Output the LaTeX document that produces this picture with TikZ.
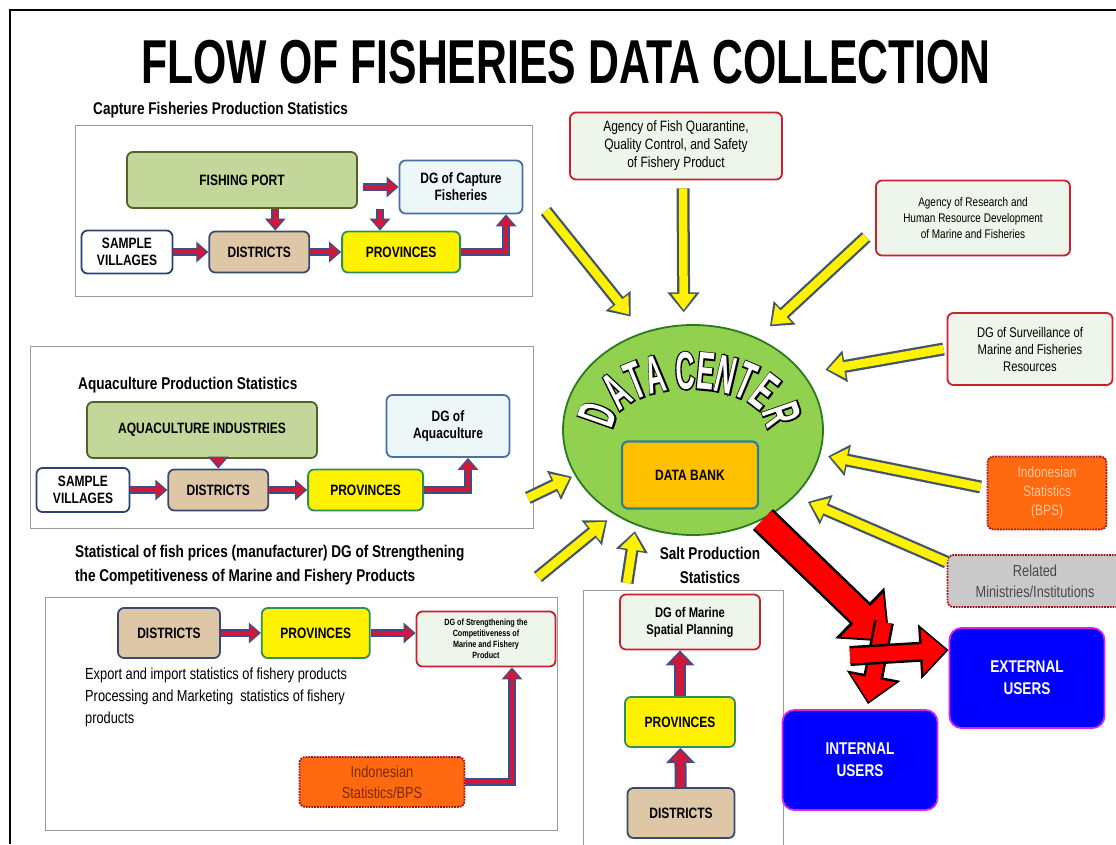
\documentclass[tikz,border=0pt]{standalone}
\usepackage{fontspec}
\setmainfont{Liberation Sans}
\newfontfamily\narrowfont[FakeStretch=0.8]{Liberation Sans}
\newfontfamily\titlefont[FakeStretch=0.69]{Liberation Sans}
\newfontfamily\arcfont[FakeStretch=0.5]{Liberation Sans}
\newfontfamily\arcedgefont[FakeStretch=0.5, FakeBold=5]{Liberation Sans}
\usetikzlibrary{shapes.geometric, arrows.meta, positioning, decorations.text, calc}

\definecolor{portfill}{HTML}{C4D79B}
\definecolor{portedge}{HTML}{4F6228}
\definecolor{dgfill}{HTML}{EEF7F7}
\definecolor{dgedge}{HTML}{4A6FA0}
\definecolor{villedge}{HTML}{2C4270}
\definecolor{distfill}{HTML}{DDC7A6}
\definecolor{distedge}{HTML}{3A4A6E}
\definecolor{provedge}{HTML}{2F8F5A}
\definecolor{agencyfill}{HTML}{EEF5EA}
\definecolor{agencyedge}{HTML}{C8202F}
\definecolor{bpsfill}{HTML}{FF6A10}
\definecolor{bpsedge}{HTML}{A0141C}
\definecolor{bpstext}{HTML}{FFC39A}
\definecolor{bpsdark}{HTML}{7A2A00}
\definecolor{relfill}{HTML}{C9C9C9}
\definecolor{reltext}{HTML}{4A4A4A}
\definecolor{userfill}{HTML}{0000FF}
\definecolor{useredge}{HTML}{E020E0}
\definecolor{dcfill}{HTML}{92D050}
\definecolor{dcedge}{HTML}{2A7A1E}
\definecolor{bankfill}{HTML}{FFC000}
\definecolor{bankedge}{HTML}{2F7F8F}
\definecolor{flowred}{HTML}{D0183A}
\definecolor{flowedge}{HTML}{3A4E8C}
\definecolor{bigred}{HTML}{FF0000}
\definecolor{yellowedge}{HTML}{44546A}
\definecolor{panelgrey}{HTML}{9A9A9A}

\begin{document}
\begin{tikzpicture}[
    x=1pt, y=-1pt,
    panel/.style={rectangle, draw=panelgrey, line width=0.9pt, fill=white, anchor=north west, inner sep=0pt},
    heading/.style={inner sep=0pt, align=left, font=\narrowfont\bfseries\fontsize{17}{24}\selectfont},
    box/.style={rectangle, rounded corners=6pt, line width=1.8pt, align=center, inner sep=1pt, font=\narrowfont\bfseries\fontsize{15}{17}\selectfont},
    portbox/.style={box, draw=portedge, fill=portfill, minimum width=230pt, minimum height=56pt},
    dgbox/.style={box, draw=dgedge, fill=dgfill, minimum width=123pt, minimum height=55pt},
    villbox/.style={box, draw=villedge, fill=white, minimum width=91pt, minimum height=43pt},
    distbox/.style={box, draw=distedge, fill=distfill, minimum width=100pt, minimum height=41pt},
    provbox/.style={box, draw=provedge, fill=yellow, minimum width=118pt, minimum height=41pt},
    agencybox/.style={box, draw=agencyedge, fill=agencyfill, font=\narrowfont\fontsize{15}{18}\selectfont},
    bpsbox/.style={box, draw=bpsedge, fill=bpsfill, densely dotted, font=\narrowfont\fontsize{16}{21}\selectfont},
    userbox/.style={box, draw=useredge, fill=userfill, text=white, rounded corners=12pt, minimum width=155pt, minimum height=100pt, font=\narrowfont\bfseries\fontsize{17}{22}\selectfont},
    redflow/.style={draw=flowred, line width=4.5pt, -{Triangle[length=9pt, width=15pt]}, shorten >=2pt,
        preaction={draw=flowedge, line width=8pt, -{Triangle[length=12pt, width=20pt]}, shorten >=0pt}},
    wideflow/.style={draw=flowred, line width=8pt, -{Triangle[length=12pt, width=21pt]}, shorten >=2pt,
        preaction={draw=flowedge, line width=12pt, -{Triangle[length=15pt, width=28pt]}, shorten >=0pt}},
    yellowflow/.style={draw=yellow, line width=8.5pt, -{Triangle[length=16pt, width=23pt]}, shorten >=#1+2.5pt,
        preaction={draw=yellowedge, line width=13pt, -{Triangle[length=20pt, width=31pt]}, shorten >=#1}},
    yellowflow/.default=0pt,
    bigflow/.style={draw=bigred, line width=24pt, -{Triangle[length=36pt, width=58pt]}, shorten >=3pt,
        preaction={draw=black, line width=29pt, -{Triangle[length=42pt, width=68pt]}, shorten >=0pt}},
    crossflow/.style={draw=bigred, line width=15pt, -{Triangle[length=24pt, width=44pt]}, shorten >=2.5pt,
        preaction={draw=black, line width=20pt, -{Triangle[length=29pt, width=53pt]}, shorten >=0pt}}
]
\useasboundingbox (0,0) rectangle (1116,844);
\clip (0,0) rectangle (1116,844);
\fill[white] (0,0) rectangle (1116,844);
\draw[line width=1.5pt] (10,844) -- (10,10) -- (1116,10);

% Title
\node[font=\titlefont\bfseries\fontsize{62}{62}\selectfont] (title) at (566,62) {FLOW OF FISHERIES DATA COLLECTION};

% Capture fisheries
\node[heading, anchor=base west] (capturehead) at (93,114) {Capture Fisheries Production Statistics};
\node[panel, minimum width=457pt, minimum height=171pt] (capture) at (75,125) {};
\node[portbox] (port1) at (242,180) {FISHING PORT};
\node[dgbox, minimum height=53pt] (dgcapture) at (461,187) {DG of Capture\\Fisheries};
\node[villbox] (vil1) at (127,252) {SAMPLE\\VILLAGES};
\node[distbox, right=35pt of vil1] (dist1) {DISTRICTS};
\node[provbox, right=31pt of dist1] (prov1) {PROVINCES};
\coordinate (capdown) at (380,209);

\draw[redflow] ([xshift=16pt]dist1.north |- port1.south) -- ([xshift=16pt]dist1.north);
\draw[redflow] (vil1) -- (dist1);
\draw[redflow] (dist1) -- (prov1);
\draw[redflow] ([xshift=5pt]port1.east |- dgcapture.west) -- (dgcapture.west);
\draw[redflow] (capdown) -- (capdown |- prov1.north);
\draw[redflow] (prov1.east) -| ([xshift=45pt]dgcapture.south);

% Aquaculture
\node[panel, minimum width=503pt, minimum height=182pt] (aqua) at (30,346) {};
\node[heading, anchor=base west] (aquahead) at (78,389) {Aquaculture Production Statistics};
\node[portbox] (aquaind) at (202,430) {AQUACULTURE INDUSTRIES};
\node[dgbox, minimum height=62pt] (dgaqua) at (448,426) {DG of\\Aquaculture};
\node[villbox, minimum width=93pt, minimum height=44pt] (vil2) at (83,490) {SAMPLE\\VILLAGES};
\node[distbox, right=37pt of vil2] (dist2) {DISTRICTS};
\node[provbox, minimum width=115pt, right=38pt of dist2] (prov2) {PROVINCES};

\draw[redflow] (aquaind.south -| dist2.north) -- (dist2.north);
\draw[redflow] (vil2) -- (dist2);
\draw[redflow] (dist2) -- (prov2);
\draw[redflow] (prov2.east) -| ([xshift=20pt]dgaqua.south);

% Fish prices
\node[heading, anchor=north west] (pricehead) at (75,545) {Statistical of fish prices (manufacturer) DG of Strengthening\\the Competitiveness of Marine and Fishery Products};
\node[panel, minimum width=512pt, minimum height=233pt] (price) at (45,597) {};
\node[distbox, minimum width=102pt, minimum height=50pt] (dist3) at (169,633) {DISTRICTS};
\node[provbox, minimum width=108pt, minimum height=50pt, right=40pt of dist3] (prov3) {PROVINCES};
\node[box, draw=agencyedge, fill=agencyfill, minimum width=139pt, minimum height=55pt, font=\narrowfont\bfseries\fontsize{9}{11}\selectfont] (dgstrength) at (486,639) {DG of Strengthening the\\Competitiveness of\\Marine and Fishery\\Product};
\node[anchor=north west, inner sep=0pt, align=left, font=\narrowfont\fontsize{16}{22}\selectfont] (pricetext) at (85,668) {Export and import statistics of fishery products\\Processing and Marketing~ statistics of fishery\\products};
\node[bpsbox, text=bpsdark, minimum width=165pt, minimum height=50pt] (bps1) at (382,782) {Indonesian\\Statistics/BPS};

\draw[redflow] (dist3) -- (prov3);
\draw[redflow] (prov3.east) -- (prov3.east -| dgstrength.west);
\draw[redflow] (bps1.east) -| ([xshift=26pt]dgstrength.south);

% Salt
\node[heading, align=center] (salthead) at (710,565) {Salt Production\\Statistics};
\node[panel, minimum width=200pt, minimum height=270pt] (salt) at (583,590) {};
\node[box, draw=agencyedge, fill=agencyfill, minimum width=140pt, minimum height=55pt, font=\narrowfont\bfseries\fontsize{14}{17}\selectfont] (dgspatial) at (690,622) {DG of Marine\\Spatial Planning};
\node[provbox, minimum width=110pt, minimum height=50pt] (prov4) at (680,722) {PROVINCES};
\node[distbox, minimum width=107pt, minimum height=50pt] (dist4) at (681,813) {DISTRICTS};

\draw[wideflow] (dist4) -- (prov4);
\draw[wideflow] (prov4) -- (dgspatial.south -| prov4.north);

% Data center
\node[ellipse, draw=dcedge, fill=dcfill, line width=1.8pt, minimum width=260pt, minimum height=210pt, inner sep=0pt] (dc) at (693,430) {};
\coordinate (arcstart) at ($(dc.center)+(-3,-3)+(200:76pt and 38pt)$);
\path[decorate, decoration={text along path, text align=center,
    text={|\arcedgefont\bfseries\fontsize{53}{53}\selectfont|DATA CENTER}}]
    (arcstart) arc[start angle=200, end angle=-20, x radius=76pt, y radius=38pt];
\path[decorate, decoration={text along path, text align=center,
    text={|\arcfont\bfseries\fontsize{53}{53}\selectfont\color{white}|DATA CENTER}}]
    (arcstart) arc[start angle=200, end angle=-20, x radius=76pt, y radius=38pt];
\node[box, draw=bankedge, fill=bankfill, line width=2.2pt, minimum width=136pt, minimum height=67pt] (bank) at (690,475) {DATA BANK};

% Sources
\node[agencybox, minimum width=212pt, minimum height=67pt] (quarantine) at (676,146) {Agency of Fish Quarantine,\\Quality Control, and Safety\\of Fishery Product};
\node[agencybox, minimum width=194pt, minimum height=75pt, font=\narrowfont\fontsize{12.5}{16}\selectfont] (research) at (973,218) {Agency of Research and\\Human Resource Development\\of Marine and Fisheries};
\node[agencybox, minimum width=165pt, minimum height=72pt, font=\narrowfont\fontsize{14}{17}\selectfont] (surveillance) at (1030,349) {DG of Surveillance of\\Marine and Fisheries\\Resources};
\node[bpsbox, text=bpstext, minimum width=119pt, minimum height=73pt, font=\narrowfont\fontsize{15}{19}\selectfont] (bps2) at (1047,493) {Indonesian\\Statistics\\(BPS)};
\node[bpsbox, fill=relfill, text=reltext, minimum width=175pt, minimum height=52pt] (related) at (1035,581) {Related\\Ministries/Institutions};

% Users
\node[userbox] (external) at (1027,678) {EXTERNAL\\USERS};
\node[userbox] (internal) at (860,760) {INTERNAL\\USERS};

% Arrows to data center
\draw[yellowflow=20pt] ([xshift=13pt]capture.east) -- (dc.117);
\draw[yellowflow=12pt] ([xshift=7pt, yshift=-8pt]quarantine.south) -- (dc.95);
\draw[yellowflow=17pt] ([xshift=-9pt, yshift=-19pt]research.west) -- (dc.55);
\draw[yellowflow=22pt] ([xshift=-3pt]surveillance.west) -- (dc.27);
\draw[yellowflow=8pt] ([xshift=-6pt, yshift=6pt]bps2.west) -- (dc.-11);
\draw[yellowflow=14pt] ([yshift=-8pt]related.north west) -- (dc.-33);
\draw[yellowflow=3pt] ([xshift=-6pt, yshift=31pt]aqua.south east) -- (dc.201);
\draw[yellowflow=9pt] ([xshift=-20pt, yshift=20pt]price.north east) -- (dc.227);
\draw[yellowflow=6pt] ([xshift=44pt, yshift=7pt]salt.north west) -- (dc.239);

% Arrows to users
\coordinate (split) at (890,642);
\coordinate (splitleft) at (850,656);
\coordinate (splittop) at (884,622);
\draw[bigflow] (dc.-52) -- (split);
\draw[crossflow] (splittop) -- ([xshift=8pt, yshift=5pt]internal.north);
\draw[crossflow] (splitleft) -- ([yshift=28pt]external.west);

\end{tikzpicture}
\end{document}
